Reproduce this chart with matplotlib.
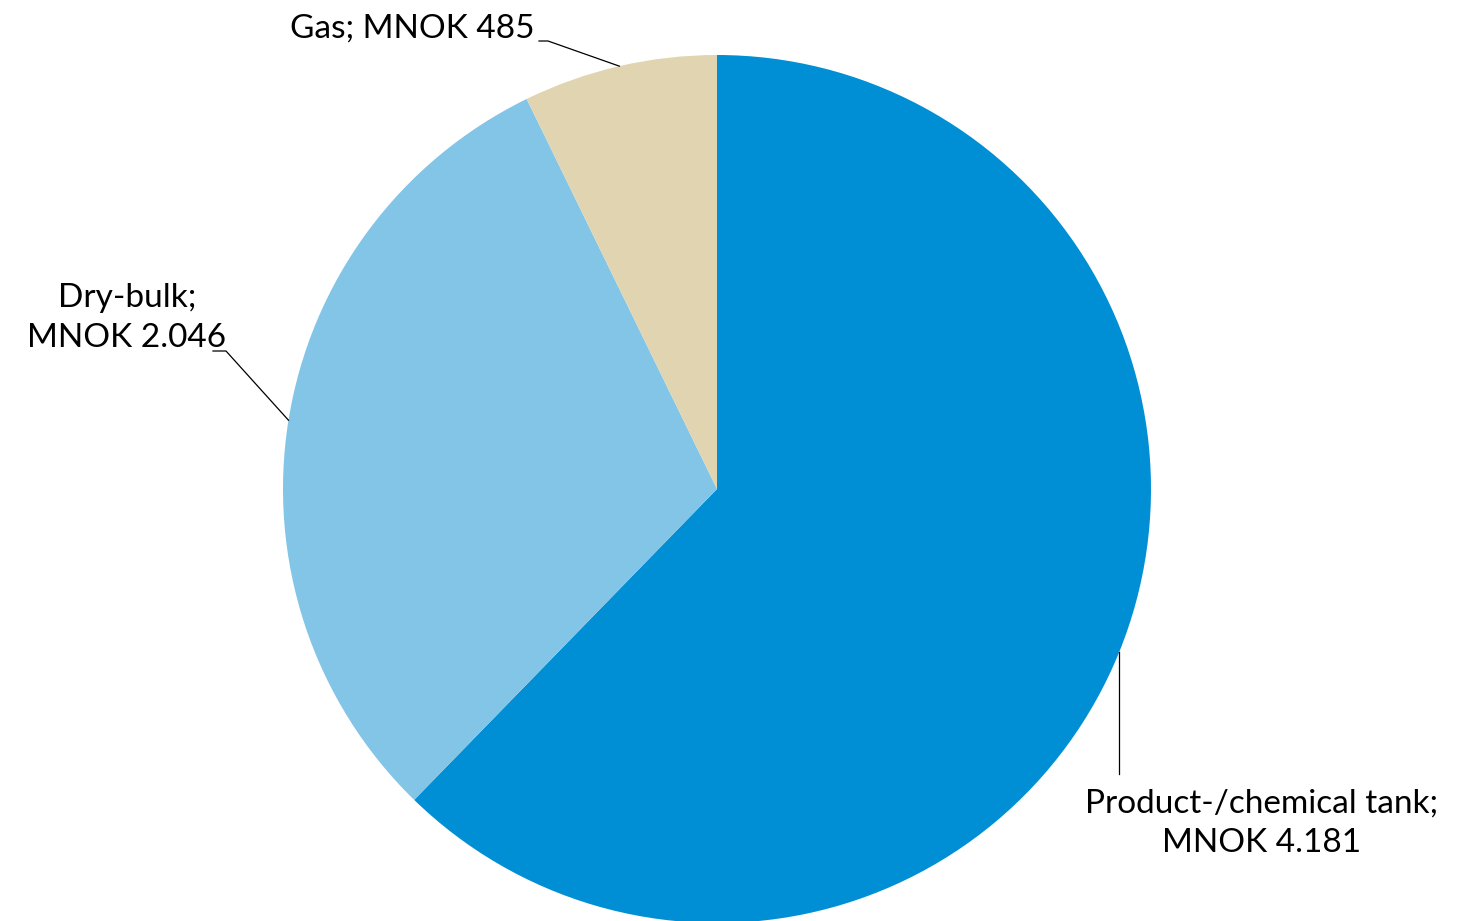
import numpy as np
import matplotlib.pyplot as plt

# fleet segments, values in MNOK
segments = ["Product-/chemical tank", "Dry-bulk", "Gas"]
values = [4181, 2046, 485]
value_text = ["4.181", "2.046", "485"]
colors = ["#008fd5", "#82c5e7", "#e0d5b0"]

W, H = 1469, 921
fig = plt.figure(figsize=(W / 100, H / 100), dpi=100)
ax = fig.add_axes([0, 0, 1, 1])

cx, cy, r = 717, H - 489, 434
wedges, _ = ax.pie(values, colors=colors, startangle=90, counterclock=False,
                   radius=r, center=(cx, cy), frame=True)
ax.set_xlim(0, W)
ax.set_ylim(0, H)
ax.set_aspect("equal")
ax.axis("off")

font = dict(family="Lato", fontsize=24, color="black")

def edge(w):
    a = np.deg2rad((w.theta1 + w.theta2) / 2)
    return cx + r * np.cos(a), cy + r * np.sin(a)

# Product label: vertical leader below the wedge
x0, y0 = edge(wedges[0])
ax.plot([x0, x0], [y0, H - 774], color="black", lw=0.9)
ax.text(1262, H - 823, f"{segments[0]};\nMNOK {value_text[0]}", ha="center", va="center",
        linespacing=1.4, **font)

# Dry-bulk label on the left
x1, y1 = edge(wedges[1])
ax.plot([x1, 226, 213], [y1, H - 351, H - 351], color="black", lw=0.9)
ax.text(127, H - 318, f"{segments[1]};\nMNOK {value_text[1]}", ha="center", va="center",
        linespacing=1.4, **font)

# Gas label at the top
x2, y2 = edge(wedges[2])
ax.plot([x2, 548, 539], [y2, H - 41, H - 41], color="black", lw=0.9)
ax.text(535, H - 29, f"{segments[2]}; MNOK {value_text[2]}", ha="right", va="center", **font)

fig.savefig("out.png", dpi=100, facecolor="white")
